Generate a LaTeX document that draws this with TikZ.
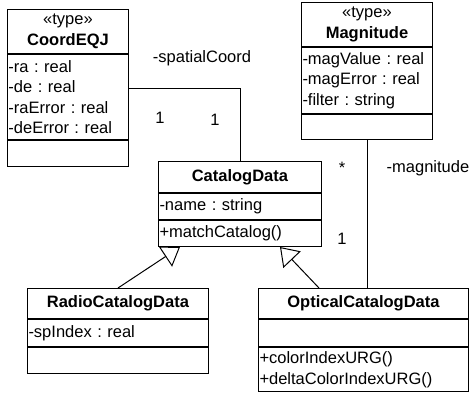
\documentclass[tikz,border=0pt]{standalone}
\usepackage{fontspec}
\setmainfont{Liberation Sans}
\usetikzlibrary{arrows.meta}
\frenchspacing

\begin{document}
\begin{tikzpicture}
  [x=1pt,y=-1pt,line width=1pt,
   every node/.style={font=\fontsize{16.5}{20.5}\selectfont,inner sep=0pt},
   part/.style 2 args={draw,rectangle,anchor=north west,align=left,inner xsep=1pt,text width=#1,minimum height=#2},
   head/.style 2 args={part={#1}{#2},align=center},
   gen/.style={-{Triangle[open,length=17.5pt,width=24pt]}}]
  \path[use as bounding box,fill=white] (0,0) rectangle (472,394);

  \node[head={119}{44}] (coordH) at (7,9) {«type»\\\textbf{CoordEQJ}};
  \node[part={119}{85}] (coordA) at (coordH.south west) {-ra : real\\-de : real\\-raError : real\\-deError : real};
  \node[part={119}{26}] (coordO) at (coordA.south west) {};

  \node[head={129}{44}] (magH) at (301,2) {«type»\\\textbf{Magnitude}};
  \node[part={129}{66}] (magA) at (magH.south west) {-magValue : real\\-magError : real\\-filter : string};
  \node[part={129}{25}] (magO) at (magA.south west) {};

  \node[head={161}{31}] (catH) at (158,161) {\textbf{CatalogData}};
  \node[part={161}{26}] (catA) at (catH.south west) {-name : string};
  \node[part={161}{26}] (catO) at (catA.south west) {+matchCatalog()};

  \node[head={179}{30}] (radH) at (27,288) {\textbf{RadioCatalogData}};
  \node[part={179}{27}] (radA) at (radH.south west) {-spIndex : real};
  \node[part={179}{26}] (radO) at (radA.south west) {};

  \node[head={208}{30}] (optH) at (258,288) {\textbf{OpticalCatalogData}};
  \node[part={208}{27}] (optA) at (optH.south west) {};
  \node[part={208}{44}] (optO) at (optA.south west) {+colorIndexURG()\\+deltaColorIndexURG()};

  \draw ([yshift=8.5pt]coordA.east) -| (catH.north);
  \draw (magO.south) -- (magO.south |- optH.north);

  \draw[gen] (radH.north) -- ([xshift=22pt]catO.south west);
  \draw[gen] ([xshift=61pt]optH.north west) -- ([xshift=-42pt]catO.south east);

  \node (spatial) at (202,58) {-spatialCoord};
  \node (oneA) at (160,118) {1};
  \node (oneB) at (215,120) {1};
  \node (many) at (342,168) {*};
  \node (magn) at (428,168) {-magnitude};
  \node (oneC) at (342,239) {1};
\end{tikzpicture}
\end{document}
